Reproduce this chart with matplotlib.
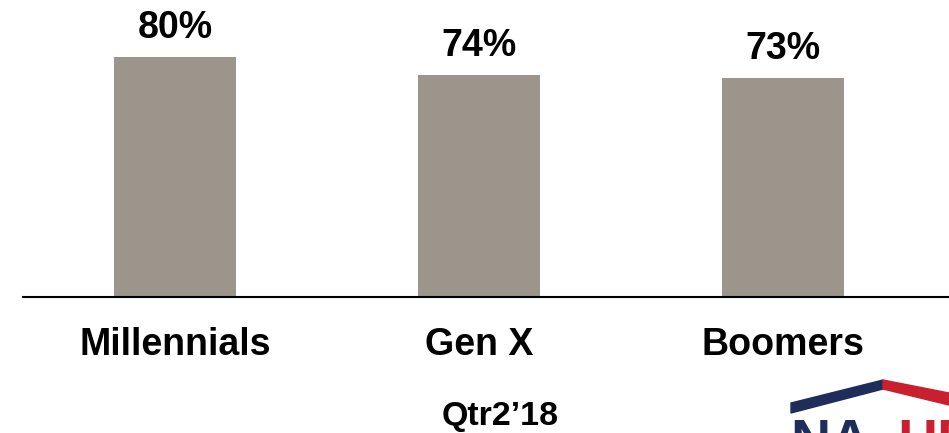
import matplotlib.pyplot as plt
from matplotlib.patches import Polygon

# share of each generation
groups = ["Millennials", "Gen X", "Boomers"]
shares = [80, 74, 73]
period = "Qtr2\u201918"

bar_color = "#9c958b"
navy = "#1f2d5a"
red = "#c8202f"

plt.rcParams['font.family'] = ['Liberation Sans', 'DejaVu Sans']

W, H = 949, 433
fig = plt.figure(figsize=(W / 100, H / 100), dpi=100)
ax = fig.add_axes([23 / W, (H - 297) / H, 1 - 23 / W, 297 / H])

x = range(len(groups))
ax.bar(x, shares, width=0.40, color=bar_color, zorder=2)
for i, v in zip(x, shares):
    ax.text(i, v + 6.4, f"{v}%", ha="center", va="baseline",
            fontsize=27, fontweight="bold", color="black")
    # category name under the axis line
    ax.text(i, -19.3, groups[i], ha="center", va="baseline",
            fontsize=27, fontweight="bold", color="black", clip_on=False)

ax.set_xlim(-0.5, 2.546)
ax.set_ylim(0, 99)
ax.set_yticks([])
ax.set_xticks([])
for s in ["top", "right", "left"]:
    ax.spines[s].set_visible(False)
ax.spines["bottom"].set_linewidth(1.5)
ax.spines["bottom"].set_color("black")

fig.text(500 / W, (H - 425) / H, period, ha="center", va="baseline",
         fontsize=24.5, fontweight="bold")


# logo in the bottom-right corner, in pixel coordinates
def px(pts):
    return [(a / W, (H - b) / H) for a, b in pts]


fig.patches.append(Polygon(px([(791, 403), (883, 380), (883, 389), (791, 413)]),
                           closed=True, color=navy, transform=fig.transFigure))
fig.patches.append(Polygon(px([(883, 380), (949, 393), (949, 405), (883, 389)]),
                           closed=True, color=red, transform=fig.transFigure))
fig.text(790 / W, (H - 458) / H, "NA", ha="left", va="baseline",
         fontsize=40, fontweight="bold", color=navy)
fig.text(897 / W, (H - 458) / H, "HB", ha="left", va="baseline",
         fontsize=40, fontweight="bold", color=red)

fig.savefig("out.png", dpi=100)
